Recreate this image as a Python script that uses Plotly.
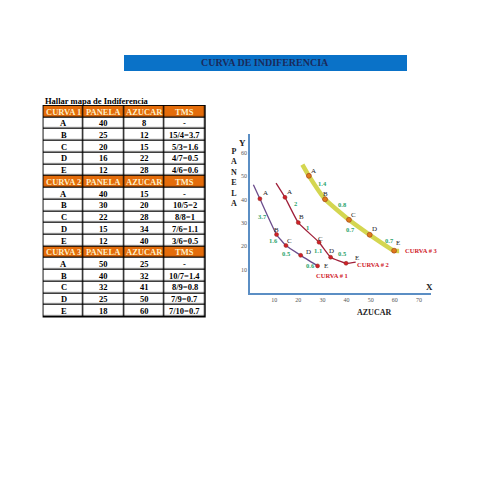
import plotly.graph_objects as go

# ---------------- DATA ----------------
table_curves = ["CURVA 1", "CURVA 2", "CURVA 3"]
table_cols = ["PANELA", "AZUCAR", "TMS"]
table_points = ["A", "B", "C", "D", "E"]
panela_1 = [40, 25, 20, 16, 12]
azucar_1 = [8, 12, 15, 22, 28]
tms_1 = ["-", "15/4=3.7", "5/3=1.6", "4/7=0.5", "4/6=0.6"]
panela_2 = [40, 30, 22, 15, 12]
azucar_2 = [15, 20, 28, 34, 40]
tms_2 = ["-", "10/5=2", "8/8=1", "7/6=1.1", "3/6=0.5"]
panela_3 = [50, 40, 32, 25, 18]
azucar_3 = [25, 32, 41, 50, 60]
tms_3 = ["-", "10/7=1.4", "8/9=0.8", "7/9=0.7", "7/10=0.7"]

# points as drawn on the chart (x = azucar, y = panela)
plot_x_1 = [4.1, 11.0, 14.9, 21.0, 28.0]
plot_y_1 = [40.3, 25.0, 20.3, 16.1, 11.6]
plot_x_2 = [14.5, 20.0, 28.6, 33.4, 39.8]
plot_y_2 = [40.9, 30.1, 21.7, 15.3, 12.7]
plot_x_3 = [24.4, 31.1, 41.0, 49.6, 59.7]
plot_y_3 = [50.1, 40.1, 31.3, 24.9, 18.1]
# curve line extensions (start, end)
line_start_1 = (1.4, 46.3)
line_end_1 = None
line_start_2 = (10.8, 47.0)
line_end_2 = (43.8, 13.2)
line_start_3 = (21.7, 54.9)
line_end_3 = (61.8, 18.0)
# green TMS label locations
tms_lab_x_1 = [5.1, 9.9, 15.2, 24.9]
tms_lab_y_1 = [32.7, 22.3, 17.0, 11.6]
tms_lab_x_2 = [18.9, 24.0, 28.3, 38.2]
tms_lab_y_2 = [38.4, 28.0, 18.1, 17.0]
tms_lab_x_3 = [30.0, 38.2, 41.7, 58.0]
tms_lab_y_3 = [47.0, 37.7, 27.3, 22.3]
curve_names = ["CURVA # 1", "CURVA # 2", "CURVA # 3"]
curve_name_x = [33.8, 51.0, 71.1]
curve_name_y = [7.7, 12.0, 18.0]
x_ticks = [10, 20, 30, 40, 50, 60, 70]
y_ticks = [10, 20, 30, 40, 50, 60]

# ---------------- HELPERS ----------------
OFF = 8            # page body margin
W = H = 495 - 2 * OFF
def px(x):
    return (x - OFF) / W
def py(y):
    return 1 - (y - OFF) / H

FONT = "Liberation Serif"
ORANGE = "#e46c0a"
HEAD_TXT = "#fdf0c8"

fig = go.Figure()

# ---------------- TABLE (heatmap grid) ----------------
rows = []   # list of (is_header, [4 texts])
for i, (name, pan, azu, tms) in enumerate(zip(table_curves, [panela_1, panela_2, panela_3],
                                              [azucar_1, azucar_2, azucar_3],
                                              [tms_1, tms_2, tms_3])):
    rows.append((True, [name] + table_cols))
    for p, a, b, t in zip(table_points, pan, azu, tms):
        rows.append((False, [p, str(a), str(b), t]))

z = [[1 if hdr else 0] * 4 for hdr, _ in rows]
tx0, tx1, ty0, ty1 = 43.3, 205.0, 105.7, 316.7
fig.add_shape(type="rect", xref="paper", yref="paper", x0=px(tx0 - 0.7), x1=px(tx1 + 0.7),
              y0=py(ty1 + 0.7), y1=py(ty0 - 0.7), fillcolor="black", line=dict(width=0),
              layer="below")
fig.add_trace(go.Heatmap(z=z, x=[0, 1, 2, 3], y=list(range(len(rows))), xaxis="x2", yaxis="y2",
                         colorscale=[[0, "white"], [1, ORANGE]], zmin=0, zmax=1,
                         showscale=False, xgap=1.3, ygap=1.3, hoverinfo="skip"))
for r, (hdr, texts) in enumerate(rows):
    for c, t in enumerate(texts):
        fig.add_annotation(x=c, y=r, xref="x2", yref="y2", text=f"<b>{t}</b>", showarrow=False,
                           font=dict(family=FONT, size=8.5, color=HEAD_TXT if hdr else "black"))

# ---------------- CURVES ----------------
curves = [
    (plot_x_1, plot_y_1, line_start_1, line_end_1, "#6b4c8c", 1.3, "#d0202a", 4),
    (plot_x_2, plot_y_2, line_start_2, line_end_2, "#a0203a", 1.3, "#d0202a", 4),
    (plot_x_3, plot_y_3, line_start_3, line_end_3, "#d4d650", 4.5, "#e07a1a", 5),
]
for xs, ys, st, en, lc, lw, mc, ms in curves:
    lx = [st[0]] + xs + ([en[0]] if en else [])
    ly = [st[1]] + ys + ([en[1]] if en else [])
    fig.add_trace(go.Scatter(x=lx, y=ly, mode="lines",
                             line=dict(color=lc, width=lw, shape="spline", smoothing=0.4),
                             hoverinfo="skip", showlegend=False, cliponaxis=False))
    fig.add_trace(go.Scatter(x=xs, y=ys, mode="markers",
                             marker=dict(color=mc, size=ms, line=dict(color="#8a2a1a", width=0.5)),
                             showlegend=False, cliponaxis=False))

# point letters
letter_offsets = [
    [(6, 6), (0, 5), (4, 5), (8, 3), (8, 0)],
    [(5, 5), (3, 6), (1, 3), (1, 6), (11, 5)],
    [(5, 5), (0, 5), (5, 5), (5, 6), (4, 8)],
]
for (xs, ys, *_), offs in zip(curves, letter_offsets):
    for p, x, y, (dx, dy) in zip(table_points, xs, ys, offs):
        fig.add_annotation(x=x, y=y, text=p, showarrow=False, xshift=dx, yshift=dy,
                           font=dict(family=FONT, size=7, color="#222222"))

# green TMS labels
for tms, lxs, lys in [(tms_1, tms_lab_x_1, tms_lab_y_1), (tms_2, tms_lab_x_2, tms_lab_y_2),
                      (tms_3, tms_lab_x_3, tms_lab_y_3)]:
    for t, x, y in zip(tms[1:], lxs, lys):
        fig.add_annotation(x=x, y=y, text="<b>" + t.split("=")[1] + "</b>", showarrow=False,
                           font=dict(family=FONT, size=6.5, color="#2aa36b"))

# curve names
for n, x, y in zip(curve_names, curve_name_x, curve_name_y):
    fig.add_annotation(x=x, y=y, text="<b>" + n + "</b>", showarrow=False,
                       font=dict(family=FONT, size=6.5, color="#d0202a"))

# ---------------- AXES ----------------
AX = "#5b8ec4"
fig.update_layout(
    xaxis=dict(domain=[px(250), px(431)], range=[0, 75], showline=True, linecolor=AX,
               linewidth=1.5, showgrid=False, zeroline=False, tickvals=x_ticks,
               ticks="", tickfont=dict(family=FONT, size=6, color="#555555")),
    yaxis=dict(domain=[py(293), py(134)], range=[0, 68], showline=True, linecolor=AX,
               linewidth=1.5, showgrid=False, zeroline=False, tickvals=y_ticks,
               ticks="", tickfont=dict(family=FONT, size=6, color="#555555")),
    xaxis2=dict(domain=[px(tx0), px(tx1)], range=[-0.5, 3.5], visible=False, fixedrange=True,
                anchor="y2"),
    yaxis2=dict(domain=[py(ty1), py(ty0)], range=[len(rows) - 0.5, -0.5], visible=False,
                fixedrange=True, anchor="x2"),
)

# ---------------- TEXT / DECOR ----------------
fig.add_shape(type="rect", xref="paper", yref="paper", x0=px(124), x1=px(407),
              y0=py(71), y1=py(55), fillcolor="#0a72c8", line=dict(width=0), layer="below")
fig.add_annotation(xref="paper", yref="paper", x=px(265), y=py(63), yanchor="middle",
                   text="<b>CURVA DE INDIFERENCIA</b>",
                   showarrow=False, font=dict(family=FONT, size=10, color="#1a2a5a"))
fig.add_annotation(xref="paper", yref="paper", x=px(43), y=py(101), xanchor="left",
                   yanchor="middle", text="<b>Hallar mapa de Indiferencia</b>", showarrow=False,
                   font=dict(family=FONT, size=8.5, color="black"))
fig.add_annotation(xref="paper", yref="paper", x=px(234), y=py(177),
                   text="<b>P<br>A<br>N<br>E<br>L<br>A</b>", showarrow=False,
                   font=dict(family=FONT, size=8, color="#222222"))
fig.add_annotation(xref="paper", yref="paper", x=px(242), y=py(136), text="<b>Y</b>",
                   showarrow=False, font=dict(family=FONT, size=9, color="#222222"))
fig.add_annotation(xref="paper", yref="paper", x=px(435), y=py(287), text="<b>X</b>",
                   showarrow=False, font=dict(family=FONT, size=9, color="#222222"))
fig.add_annotation(xref="paper", yref="paper", x=px(393), y=py(312), text="<b>AZUCAR</b>",
                   showarrow=False, font=dict(family=FONT, size=8, color="#222222"))

fig.update_layout(width=W, height=H, margin=dict(l=0, r=0, t=0, b=0),
                  paper_bgcolor="white", plot_bgcolor="white", showlegend=False)

fig.write_html("out.html")
